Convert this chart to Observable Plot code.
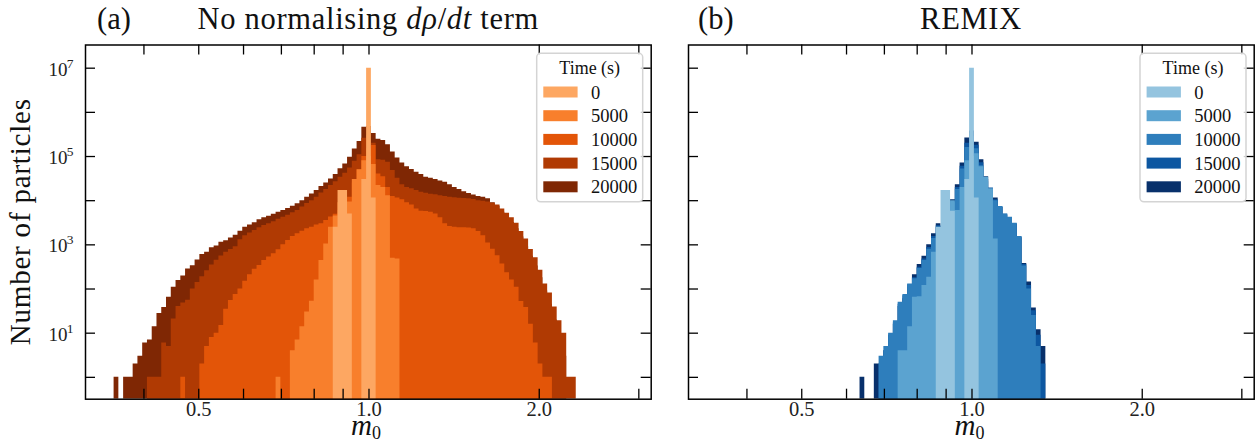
<!DOCTYPE html>
<html><head><meta charset="utf-8">
<script src="https://cdn.jsdelivr.net/npm/d3@7"></script>
<script src="https://cdn.jsdelivr.net/npm/@observablehq/plot@0.6"></script>
<style>
body{margin:0;background:#fff;}
#root{position:relative;width:1258px;height:447px;overflow:hidden;font-family:"Liberation Serif","DejaVu Serif",serif;}
#root svg{position:absolute;}
</style></head><body><div id="root"></div>
<script>
// ---------------- data ----------------
// histogram bins: log-spaced, bin k centred on m0 = 10^(k/BINS_PER_DECADE)
const BINS_PER_DECADE = 118.7;
const TIMES = ["0", "5000", "10000", "15000", "20000"];
const ORANGES = ["#fda762", "#f87f2c", "#e35508", "#b03a03", "#7f2704"];
const BLUES = ["#94c4df", "#5ba3d0", "#2e7ebc", "#0d57a1", "#08306b"];

const X_DOMAIN = [0.3153, 3.155];
const Y_DOMAIN = [0.32, 3.35e7];
const X_TICKS = [0.4, 0.5, 0.6, 0.7, 0.8, 0.9, 1, 2, 3];
const X_TICK_LABELS = [0.5, 1.0, 2.0];
const Y_TICK_EXPONENTS = [0, 1, 2, 3, 4, 5, 6, 7];
const Y_LABEL_EXPONENTS = [1, 3, 5, 7];

// (a) No normalising drho/dt term : counts per bin, first bin index given
const A_T0_START = -7;
const A_T0 = [2500, 17000, 17000, 5000, 0, 0, 30000, 10000000, 11500];
const A_T5000_START = -19;
const A_T5000 = [1, 0, 0, 4, 7, 14, 30, 53, 160, 445,
  1050, 2500, 4500, 9000, 10000, 9300, 30000, 50000, 80000,
  100000, 66000, 22000, 20000, 13000, 500, 480];
const A_T10000_START = -39;
const A_T10000 = [1, 0, 0, 0, 2, 5, 8, 10, 15, 35,
  55, 75, 100, 150, 210, 280, 340, 445, 530, 630,
  775, 1000, 1260, 1550, 1780, 2040, 2300, 2500, 2830, 3000,
  3550, 4250, 4900, 6000, 8000, 12000, 25000, 50000, 100000,
  150000, 178000,
  40000, 35000, 20000, 12500, 11500, 10500, 9000, 8000, 6500, 5800,
  5700, 5500, 5000, 4100, 3000, 2600, 2500, 2450, 2450, 2400,
  2300, 2000, 1600, 1100, 800, 570, 370, 235, 160, 110,
  52, 38, 16, 6, 2, 1, 1];
const A_T15000_START = -46;
const A_T15000 = [1, 1, 1, 6, 5, 21, 40, 48, 56, 100,
  140, 190, 260, 350, 450, 560, 680, 780, 910, 1300,
  1600, 1850, 2100, 2450, 2750, 3000, 3350, 3800, 4200, 4700,
  5300, 6000, 7200, 8600, 10000, 12000, 15000, 18000, 22000, 27000,
  34000, 42000, 55000, 78000, 110000, 260000,
  300000,
  200000, 85000, 82000, 74000, 48000, 32000, 23000, 20000, 18700, 17000, 15500,
  14800, 14000, 13700, 13000, 12400, 12000, 11600, 11400, 11200, 11000,
  10600, 10000, 9700, 9300, 8800, 8000, 6500, 5200, 4100, 3100,
  2000, 1350, 780, 510, 265, 130, 81, 39, 19, 10,
  1, 1];
const A_T20000_START = -53;
const A_T20000 = [1, 0, 1, 1, 2, 3, 6, 7, 14, 28,
  38, 65, 110, 155, 197, 284, 336, 455, 605, 680,
  855, 940, 1150, 1240, 1420, 1650, 2040, 2500, 2820, 3160,
  3700, 4100, 4470, 4900, 5500, 6000, 6650, 7500, 8500, 10000,
  12000, 14200, 17000, 21000, 25000, 31000, 39000, 53000, 68000, 96000,
  148000, 218000, 460000,
  480000,
  330000, 245000, 230000, 185000, 126000, 92000, 71000, 59000, 51000, 44000,
  39000, 34000, 32000, 30000, 28000, 26000, 23000, 20000, 18000, 16000,
  14500, 13500, 12500, 12000, 11000, 9000, 7500, 5500, 4200, 3200,
  2300, 1500, 900, 550, 330, 180, 90, 45, 20, 8,
  3];

// (b) REMIX
const B_T0_START = -7;
const B_T0 = [2500, 17000, 17000, 5800, 0, 0, 30000, 10000000, 11500];
const B_T5000_START = -15;
const B_T5000 = [4, 4, 14, 65, 67, 120, 185, 680, 1500, 2000,
  3500, 10000, 6000, 20000, 80000, 100000, 115000, 59000, 34000, 18600, 1350];
const B_T10000_START = -19;
const B_T10000 = [3, 5, 10, 19, 50, 75, 130, 170, 290, 440,
  800, 1400, 2500, 2400, 4400, 9000, 18000, 52000, 160000, 280000,
  150000, 62000, 27000, 18000, 10000, 7400, 5000, 4200, 3100, 1550,
  330, 100, 25, 5];
const B_T15000_START = -19;
const B_T15000 = [2, 4, 9, 17, 45, 70, 125, 180, 310, 480,
  870, 1550, 2700, 2500, 4600, 9500, 20000, 60000, 200000, 330000,
  180000, 72000, 30000, 19500, 10500, 7200, 4900, 4100, 3000, 1500,
  360, 120, 32, 9, 2];
const B_T20000_START = -23;
const B_T20000 = [1, 0, 0, 2, 2, 4, 9, 16, 40, 60,
  110, 210, 360, 550, 1000, 1780, 3000, 2600, 4800, 10500,
  23000, 71000, 263000, 380000,
  210000, 85000, 35000, 18000, 11500, 7000, 4700, 4000, 2900, 1450,
  380, 145, 37, 12, 5];

// ---------------- layout ----------------
const H = 447, MT = 44.5, MB = 48.3, TICK = 10;
const FONT = "'Liberation Serif', 'DejaVu Serif', serif";

const edge = k => Math.pow(10, (k - 0.5) / BINS_PER_DECADE);
function stepRows(start, counts) {
  const rows = counts.map((c, i) => ({x: edge(start + i), y: c > 0 ? c : Y_DOMAIN[0]}));
  rows.push({x: edge(start + counts.length), y: rows[rows.length - 1].y});
  return rows;
}

function panel(series, colors, o) {
  const plotW = o.width - o.marginLeft - o.marginRight;
  const plotH = H - MT - MB;
  const marks = [];
  for (let i = series.length - 1; i >= 0; i--) {
    marks.push(Plot.areaY(stepRows(series[i][0], series[i][1]), {
      x: "x", y1: Y_DOMAIN[0], y2: "y", curve: "step-after", fill: colors[i], clip: true
    }));
  }
  const yt = Y_TICK_EXPONENTS.map(e => 10 ** e);
  marks.push(
    Plot.tickX(X_TICKS, {x: d => d, insetTop: plotH - TICK, stroke: "black", strokeWidth: 1.3}),
    Plot.tickX(X_TICKS, {x: d => d, insetBottom: plotH - TICK, stroke: "black", strokeWidth: 1.3}),
    Plot.tickY(yt, {y: d => d, insetRight: plotW - TICK, stroke: "black", strokeWidth: 1.3}),
    Plot.tickY(yt, {y: d => d, insetLeft: plotW - TICK, stroke: "black", strokeWidth: 1.3}),
    Plot.frame({stroke: "black", strokeWidth: 1.5}),
    Plot.text(X_TICK_LABELS, {x: d => d, frameAnchor: "bottom", dy: 16.5, text: d => d.toFixed(1),
      fontSize: 20.5, fill: "#222"})
  );
  if (o.yLabels) {
    marks.push(
      Plot.text(Y_LABEL_EXPONENTS, {y: d => 10 ** d, frameAnchor: "left", dx: -18, dy: 1.5,
        textAnchor: "end", text: () => "10", fontSize: 19, fill: "#222"}),
      Plot.text(Y_LABEL_EXPONENTS, {y: d => 10 ** d, frameAnchor: "left", dx: -12, dy: -5,
        textAnchor: "end", text: d => String(d), fontSize: 13.5, fill: "#222"})
    );
  }
  const svg = Plot.plot({
    width: o.width, height: H,
    marginTop: MT, marginBottom: MB, marginLeft: o.marginLeft, marginRight: o.marginRight,
    x: {type: "log", domain: X_DOMAIN, axis: null},
    y: {type: "log", domain: Y_DOMAIN, axis: null},
    style: {fontFamily: FONT, background: "transparent", overflow: "visible"},
    marks
  });
  svg.style.left = o.left + "px";
  svg.style.top = "0px";
  return svg;
}

const root = document.getElementById("root");
root.appendChild(panel(
  [[A_T0_START, A_T0], [A_T5000_START, A_T5000], [A_T10000_START, A_T10000],
   [A_T15000_START, A_T15000], [A_T20000_START, A_T20000]],
  ORANGES, {left: 0, width: 660, marginLeft: 85, marginRight: 9.3, yLabels: true}));
root.appendChild(panel(
  [[B_T0_START, B_T0], [B_T5000_START, B_T5000], [B_T10000_START, B_T10000],
   [B_T15000_START, B_T15000], [B_T20000_START, B_T20000]],
  BLUES, {left: 660, width: 598, marginLeft: 28, marginRight: 4.3, yLabels: false}));

// ---------------- overlay: titles, axis labels, legends ----------------
const NS = "http://www.w3.org/2000/svg";
const ov = document.createElementNS(NS, "svg");
ov.setAttribute("width", 1258); ov.setAttribute("height", 447);
ov.style.left = "0px"; ov.style.top = "0px";
root.appendChild(ov);

function addText({x, y, anchor = "start", size, parts, rotate, spacing}) {
  const t = document.createElementNS(NS, "text");
  t.setAttribute("x", x); t.setAttribute("y", y);
  t.setAttribute("text-anchor", anchor);
  t.setAttribute("font-size", size);
  t.style.fontFamily = FONT;
  t.setAttribute("fill", "#111");
  if (spacing) t.setAttribute("letter-spacing", spacing);
  if (rotate) t.setAttribute("transform", `rotate(${rotate} ${x} ${y})`);
  for (const p of parts) {
    const s = document.createElementNS(NS, "tspan");
    s.textContent = p.t;
    if (p.italic) s.setAttribute("font-style", "italic");
    if (p.size) s.setAttribute("font-size", p.size);
    if (p.dy) s.setAttribute("dy", p.dy);
    t.appendChild(s);
  }
  ov.appendChild(t);
}
function addRect(x, y, w, h, attrs) {
  const r = document.createElementNS(NS, "rect");
  r.setAttribute("x", x); r.setAttribute("y", y); r.setAttribute("width", w); r.setAttribute("height", h);
  for (const k in attrs) r.setAttribute(k, attrs[k]);
  ov.appendChild(r);
}

// titles
addText({x: 97, y: 28.5, size: 30.5, parts: [{t: "(a)"}]});
addText({x: 368.3, y: 28.5, anchor: "middle", size: 30.5, spacing: 0.7,
  parts: [{t: "No normalising "}, {t: "dρ", italic: true}, {t: "/"}, {t: "dt", italic: true}, {t: " term"}]});
addText({x: 698, y: 28.5, size: 30.5, parts: [{t: "(b)"}]});
addText({x: 971, y: 28.5, anchor: "middle", size: 30.5, spacing: 0.7, parts: [{t: "REMIX"}]});

// axis labels
addText({x: 30, y: 221.7, anchor: "middle", size: 29, rotate: -90, spacing: 0.8,
  parts: [{t: "Number of particles"}]});
for (const cx of [366, 969.5]) {
  addText({x: cx, y: 435, anchor: "middle", size: 29,
    parts: [{t: "m", italic: true}, {t: "0", size: 18, dy: 4}]});
}

// legends
function legend(bx, colors) {
  addRect(bx, 53.3, 106, 148.5, {rx: 4, fill: "white", "fill-opacity": 0.8, stroke: "#d4d4d4", "stroke-width": 1.5});
  addText({x: bx + 53, y: 74, anchor: "middle", size: 18, parts: [{t: "Time (s)"}]});
  TIMES.forEach((lab, i) => {
    const cy = 92 + i * 23.7;
    addRect(bx + 6.6, cy - 5.5, 34.3, 11, {fill: colors[i]});
    addText({x: bx + 54.3, y: cy + 6.5, size: 18.5, parts: [{t: lab}]});
  });
}
legend(536.7, ORANGES);
legend(1140, BLUES);
</script></body></html>
